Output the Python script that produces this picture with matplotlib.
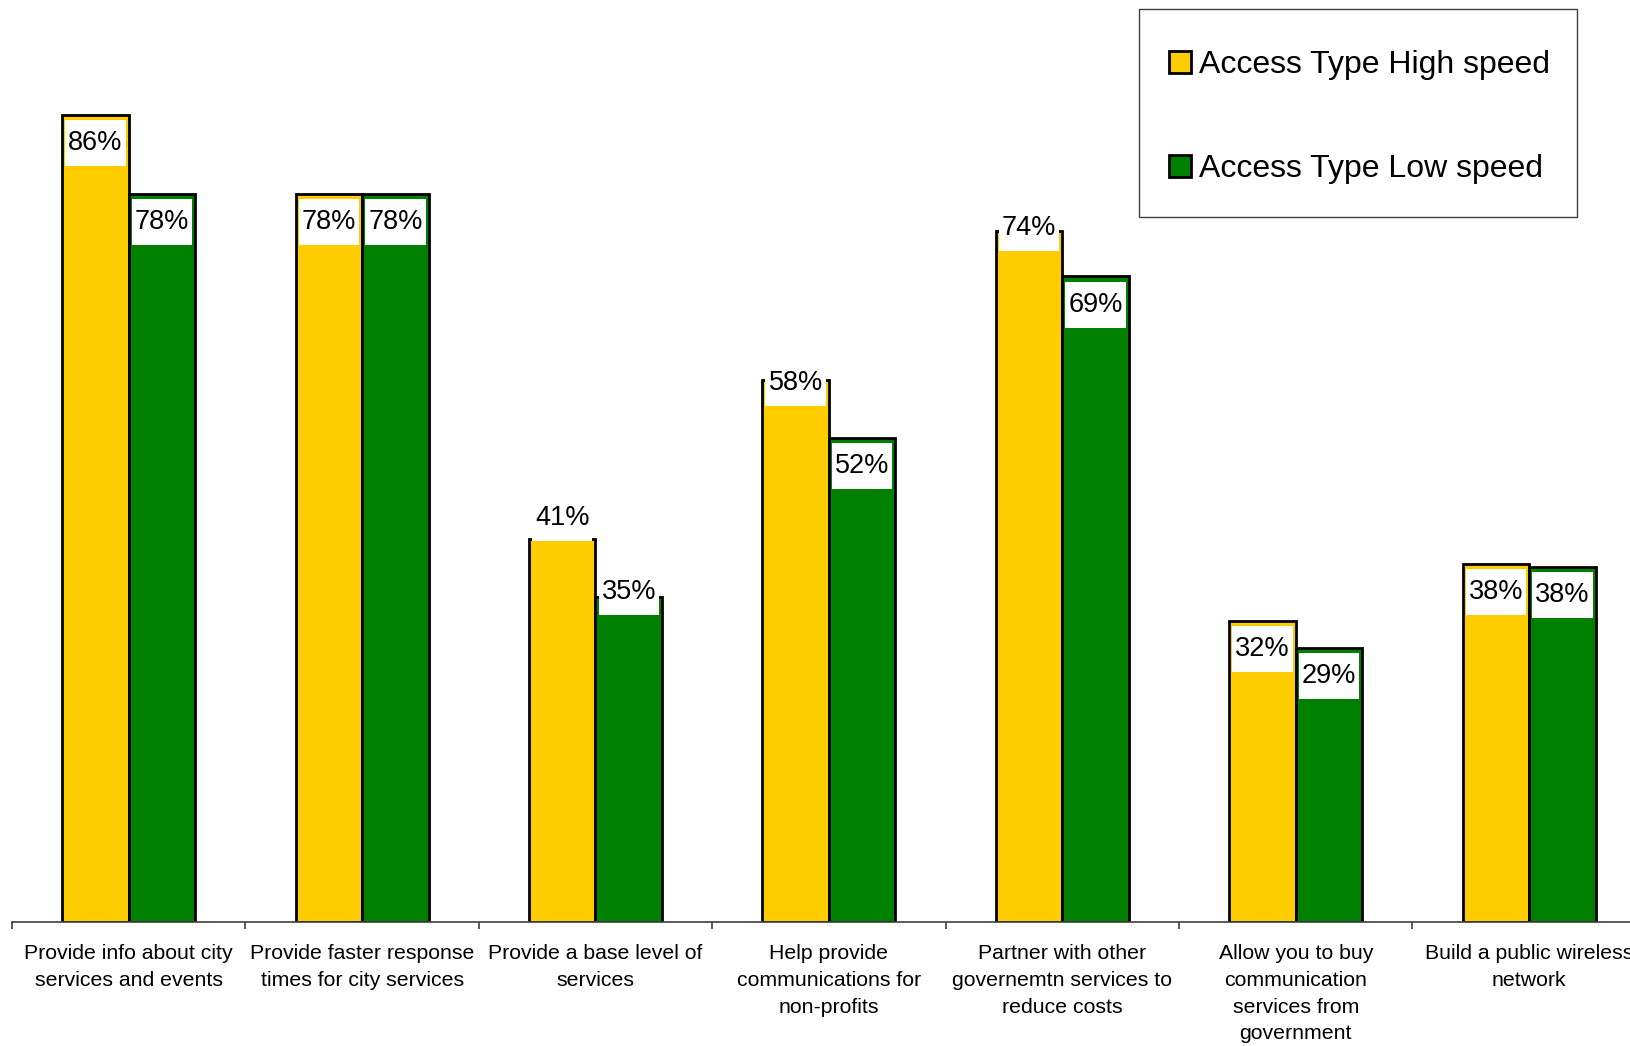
import matplotlib
matplotlib.use('Agg')
import matplotlib.pyplot as plt
from matplotlib.patches import Rectangle, Patch
import numpy as np

plt.rcParams['font.family'] = ['Liberation Sans', 'DejaVu Sans']

# 数据
categories = ['Provide info about city\nservices and events',
              'Provide faster response\ntimes for city services',
              'Provide a base level of\nservices',
              'Help provide\ncommunications for\nnon-profits',
              'Partner with other\ngovernemtn services to\nreduce costs',
              'Allow you to buy\ncommunication\nservices from\ngovernment',
              'Build a public wireless\nnetwork']
high_speed = [86.0, 77.6, 40.8, 57.8, 73.6, 32.1, 38.2]
low_speed = [77.6, 77.6, 34.6, 51.6, 68.8, 29.2, 37.8]
series_names = ['Access Type High speed', 'Access Type Low speed']

# 个别标签位置上移（原图效果）
label_lift_high = [0, 0, 5.3, 2.6, 3.4, 0, 0]
label_lift_low = [0, 0, 3.6, 0, 0, 0, 0]

yellow = '#FFCC00'
green = '#008000'

W, H = 1631, 1046
fig = plt.figure(figsize=(W / 100, H / 100), dpi=100)
ax = fig.add_axes([12 / W, 124 / H, 7 * 233.4 / W, 922 / H])

x = np.arange(len(categories))
w = 0.285
bars1 = ax.bar(x - w / 2, high_speed, w, color=yellow, edgecolor='black', linewidth=2, zorder=2)
bars2 = ax.bar(x + w / 2, low_speed, w, color=green, edgecolor='black', linewidth=2, zorder=2)

box_h = 4.9
inset_x = 0.013
inset_y = 0.55
for bars, vals, lifts in [(bars1, high_speed, label_lift_high), (bars2, low_speed, label_lift_low)]:
    for b, v, lift in zip(bars, vals, lifts):
        top = v - inset_y + lift
        ax.add_patch(Rectangle((b.get_x() + inset_x, top - box_h), b.get_width() - 2 * inset_x, box_h,
                               facecolor='white', edgecolor='none', zorder=3))
        ax.text(b.get_x() + b.get_width() / 2, top - box_h / 2, '%d%%' % round(v),
                ha='center', va='center', fontsize=19.5, zorder=4)

ax.set_xlim(-0.5, len(categories) - 0.5)
ax.set_ylim(0, 922 / 9.384)
for s in ['top', 'right', 'left']:
    ax.spines[s].set_visible(False)
ax.spines['bottom'].set_color('#404040')
ax.spines['bottom'].set_linewidth(1.2)
ax.set_yticks([])
ax.set_xticks(np.arange(len(categories) + 1) - 0.5)
ax.set_xticklabels([])
ax.tick_params(axis='x', which='major', length=5, width=1.2, color='#404040', direction='out')
ax.set_xticks(x, minor=True)
ax.set_xticklabels(categories, minor=True, fontsize=15.3, linespacing=1.51)
ax.tick_params(axis='x', which='minor', length=0, pad=16)

# 图例：外框单独画
fig.add_artist(Rectangle((1139 / W, 1 - 217 / H), 438 / W, 208 / H, transform=fig.transFigure,
                         facecolor='white', edgecolor='#404040', linewidth=1.0, zorder=5))
handles = [Patch(facecolor=yellow, edgecolor='black', linewidth=2),
           Patch(facecolor=green, edgecolor='black', linewidth=2)]
leg = fig.legend(handles, series_names, loc='upper left', bbox_to_anchor=(1169 / W, 1 - 50 / H),
                 bbox_transform=fig.transFigure, borderaxespad=0, fontsize=23, frameon=False,
                 handlelength=0.7, handleheight=0.7, handletextpad=0.25, labelspacing=2.32,
                 borderpad=0)
leg.set_zorder(6)

plt.savefig('out.png', dpi=100)
